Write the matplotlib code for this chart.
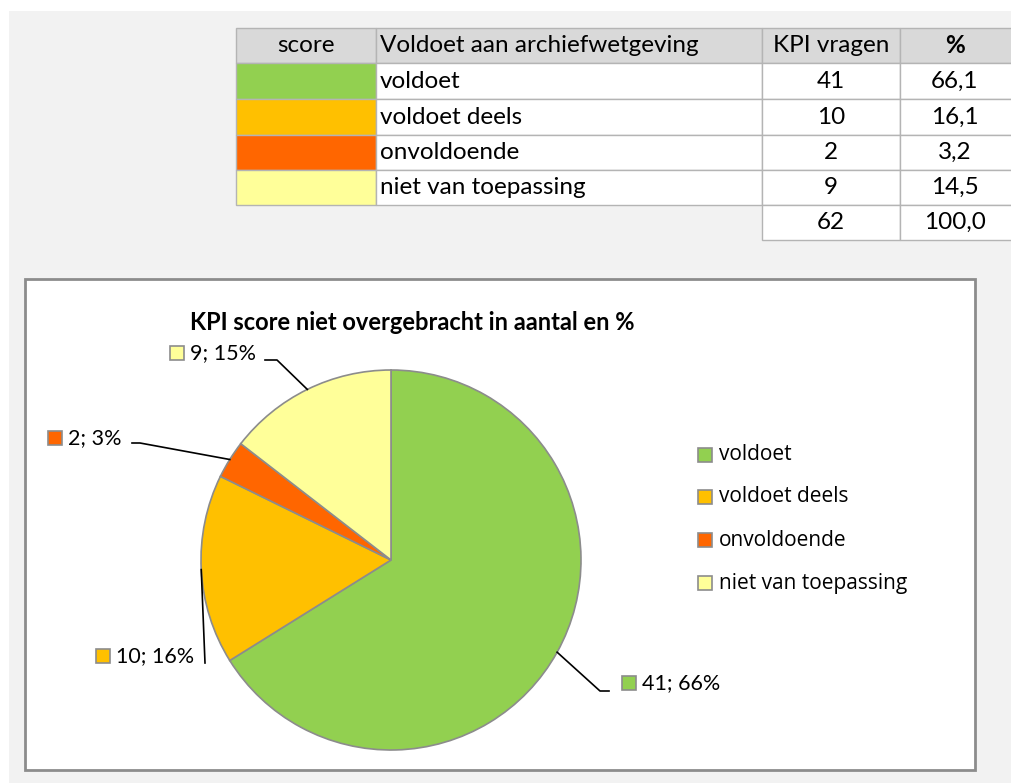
import matplotlib.pyplot as plt
from matplotlib.patches import Rectangle
import numpy as np

plt.rcParams['font.family'] = ['Lato', 'DejaVu Sans']

categories = ['voldoet', 'voldoet deels', 'onvoldoende', 'niet van toepassing']
counts = [41, 10, 2, 9]
percents = ['66,1', '16,1', '3,2', '14,5']
total_count = 62
total_pct = '100,0'
colors = ['#92d050', '#ffc000', '#ff6600', '#ffff99']
headers = ['score', 'Voldoet aan archiefwetgeving', 'KPI vragen', '%']
title = 'KPI score niet overgebracht in aantal en %'

W, H = 1012, 783
fig = plt.figure(figsize=(W/100, H/100), dpi=100)
ax = fig.add_axes([0, 0, 1, 1])

def Y(py):                      # pixel row (top down) -> data y (bottom up)
    return H - py

# background
ax.add_patch(Rectangle((9, 0), W, Y(11), facecolor='#f2f2f2', edgecolor='none', zorder=0))

# ---- table ----
fs = 17.5
col_x = [236, 376, 762, 900, 1015]
row_y = [28, 63, 99, 135, 170, 205, 240]
grid = '#b4b4b4'
for j in range(4):
    ax.add_patch(Rectangle((col_x[j], Y(row_y[1])), col_x[j+1]-col_x[j], row_y[1]-row_y[0],
                           facecolor='#d9d9d9', edgecolor=grid, lw=1, zorder=1))
for i, cat in enumerate(categories):
    y0, y1 = row_y[i+1], row_y[i+2]
    fills = [colors[i], 'white', 'white', 'white']
    for j in range(4):
        ax.add_patch(Rectangle((col_x[j], Y(y1)), col_x[j+1]-col_x[j], y1-y0,
                               facecolor=fills[j], edgecolor=grid, lw=1, zorder=1))
    yc = Y((y0 + y1) / 2)
    ax.text(col_x[1] + 4, yc, cat, fontsize=fs, ha='left', va='center', zorder=3)
    ax.text((col_x[2] + col_x[3]) / 2, yc, str(counts[i]), fontsize=fs, ha='center', va='center', zorder=3)
    ax.text((col_x[3] + col_x[4] - 5) / 2, yc, percents[i], fontsize=fs, ha='center', va='center', zorder=3)
y0, y1 = row_y[5], row_y[6]
for j in (2, 3):
    ax.add_patch(Rectangle((col_x[j], Y(y1)), col_x[j+1]-col_x[j], y1-y0,
                           facecolor='white', edgecolor=grid, lw=1, zorder=1))
ax.text((col_x[2] + col_x[3]) / 2, Y((y0+y1)/2), str(total_count), fontsize=fs, ha='center', va='center')
ax.text((col_x[3] + col_x[4] - 5) / 2, Y((y0+y1)/2), total_pct, fontsize=fs, ha='center', va='center')
hy = Y((row_y[0] + row_y[1]) / 2)
ax.text((col_x[0]+col_x[1])/2, hy, headers[0], fontsize=fs, ha='center', va='center')
ax.text(col_x[1] + 4, hy, headers[1], fontsize=fs, ha='left', va='center')
ax.text((col_x[2]+col_x[3])/2, hy, headers[2], fontsize=fs, ha='center', va='center')
ax.text((col_x[3]+col_x[4]-5)/2, hy, headers[3], fontsize=fs, ha='center', va='center', fontweight='bold')

# ---- chart box ----
ax.add_patch(Rectangle((25, Y(770)), 950, 491, facecolor='white', edgecolor='#8c8c8c', lw=2, zorder=1))
ax.text(412, Y(323), title, fontsize=17, fontweight='bold', ha='center', va='center', zorder=3)

cx, cy, r = 391, Y(560), 190
wedges, _ = ax.pie(counts, colors=colors, startangle=90, counterclock=False,
                   center=(cx, cy), radius=r, frame=True,
                   wedgeprops=dict(edgecolor='#8c8c8c', linewidth=1.2))
for w in wedges:
    w.set_zorder(2)

# data labels with leader lines (elbow and label anchor in pixels)
leaders = [
    [(600, 691), (609, 691)],
    [(205, 663)],
    [(140, 443), (132, 443)],
    [(277, 360), (265, 360)],
]
label_pos = [(622, 683), (96, 656), (48, 438), (170, 353)]
fracs = np.cumsum([0] + counts) / sum(counts)
for i in range(len(counts)):
    mid = 90 - 360 * (fracs[i] + fracs[i+1]) / 2
    ax_ = cx + r * np.cos(np.radians(mid))
    ay_ = cy + r * np.sin(np.radians(mid))
    pts = [(ax_, ay_)] + [(px, Y(py)) for px, py in leaders[i]]
    ax.plot([p[0] for p in pts], [p[1] for p in pts], color='black', lw=1.2, zorder=3)
    lx, ly = label_pos[i]
    ax.add_patch(Rectangle((lx, Y(ly + 7)), 14, 14, facecolor=colors[i], edgecolor='#8c8c8c', lw=1.2, zorder=3))
    pct = round(100 * counts[i] / sum(counts))
    ax.text(lx + 20, Y(ly), f'{counts[i]}; {pct}%', fontsize=15.5, ha='left', va='center', zorder=3)

# legend
leg_y = [455, 497, 540, 583]
for i, cat in enumerate(categories):
    ax.add_patch(Rectangle((698, Y(leg_y[i] + 7)), 14, 14, facecolor=colors[i], edgecolor='#8c8c8c', lw=1.2, zorder=3))
    ax.text(719, Y(leg_y[i]), cat, fontsize=15, ha='left', va='center', zorder=3,
            family=['Open Sans', 'DejaVu Sans'])

ax.set_xlim(0, W)
ax.set_ylim(0, H)
ax.set_aspect('auto')
ax.axis('off')
fig.savefig('out.png', dpi=100, facecolor='white')
